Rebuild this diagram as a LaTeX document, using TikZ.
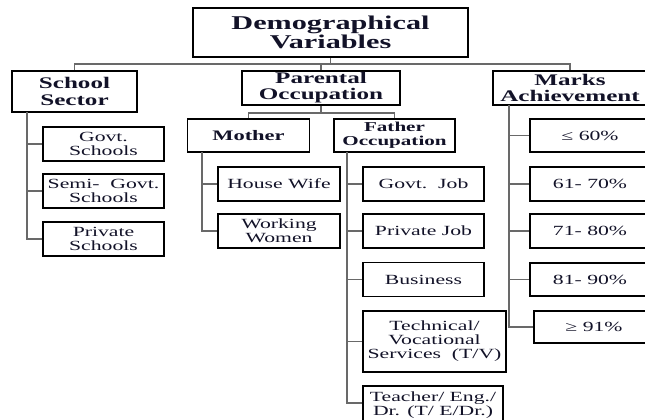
\documentclass[tikz,border=0pt]{standalone}
\usepackage{fontspec}
\setmainfont[FakeStretch=1.55]{Liberation Serif}
\usetikzlibrary{positioning,calc}
\definecolor{linkgray}{RGB}{105,105,105}
\definecolor{boxtext}{RGB}{18,18,40}

\begin{document}
\begin{tikzpicture}[x=1pt, y=-1pt,
    topbox/.style={rectangle, draw=black, line width=1.8pt, text=boxtext, inner sep=0pt, align=center, font=\fontsize{19.5}{18.5}\selectfont\bfseries, minimum width=275pt, minimum height=49pt},
    headbox/.style={rectangle, draw=black, line width=1.8pt, text=boxtext, inner sep=0pt, align=center, font=\fontsize{16.2}{16.2}\selectfont\bfseries, minimum height=34pt},
    subbox/.style={rectangle, draw=black, line width=1.8pt, text=boxtext, inner sep=0pt, align=center, font=\fontsize{14.5}{14}\selectfont\bfseries, minimum width=122pt, minimum height=33pt},
    leafbox/.style={rectangle, draw=black, line width=1.8pt, text=boxtext, inner sep=0pt, align=center, font=\fontsize{14}{14}\selectfont, minimum width=121pt, minimum height=34pt},
    link/.style={draw=linkgray, line width=1.1pt}
]
\useasboundingbox (0,0) rectangle (645,420);
\clip (0,0) rectangle (645,420);

% Root
\node[topbox] (root) at (330.5,32.5) {Demographical\\Variables};

% First level
\node[headbox, minimum width=125pt, minimum height=41pt] (school) at (74.5,91.5) {School\\Sector};
\node[headbox, minimum width=158pt] (parental) at (321,88) {Parental\\Occupation};
\node[headbox, minimum width=154pt] (marks) at (570,88) {Marks\\Achievement};

% School sector
\node[leafbox] (govts) at (103.5,144) {Govt.\\Schools};
\node[leafbox] (semi) at (103.5,191) {Semi-\ \ Govt.\\Schools};
\node[leafbox] (privs) at (103.5,239) {Private\\Schools};

% Parental occupation
\node[subbox] (mother) at (248.5,135.5) {Mother};
\node[subbox, minimum width=121pt, font=\fontsize{13.6}{13.6}\selectfont\bfseries] (father) at (394.5,135.5) {Father\\Occupation};
\node[leafbox, minimum width=122pt] (housewife) at (279,184) {House Wife};
\node[leafbox, minimum width=122pt] (working) at (279,231) {Working\\Women};
\node[leafbox] (govtjob) at (423.5,184) {Govt.\ \ Job};
\node[leafbox] (privjob) at (423.5,231) {Private Job};
\node[leafbox] (business) at (423.5,279.5) {Business};
\node[leafbox, minimum width=143pt, minimum height=61pt] (technical) at (434.5,341.5) {Technical/\\Vocational\\Services\ \ (T/V)};
\node[leafbox, minimum width=140pt, minimum height=38pt] (teacher) at (433,405) {Teacher/ Eng./\\Dr. (T/ E/Dr.)};

% Marks achievement
\node[leafbox, minimum width=120pt, minimum height=33pt] (mA) at (590,135.5) {≤ 60\%};
\node[leafbox, minimum width=120pt] (mB) at (590,184) {61- 70\%};
\node[leafbox, minimum width=120pt] (mC) at (590,231) {71- 80\%};
\node[leafbox, minimum width=120pt, minimum height=33pt] (mD) at (590,279.5) {81- 90\%};
\node[leafbox, minimum width=120pt, minimum height=32pt] (mE) at (594,327) {≥ 91\%};

% Connectors
\coordinate (bus) at (330.5,64);
\draw[link] (root) -- (bus);
\foreach \n in {school,parental,marks}
    \draw[link] (bus) -| (\n);

\coordinate (pbus) at (321,113);
\draw[link] (parental) -- (pbus);
\foreach \n in {mother,father}
    \draw[link] (pbus) -| (\n);

\coordinate (sstem) at (27,112);
\foreach \n in {govts,semi,privs}
    \draw[link] (sstem) |- (\n);

\coordinate (mstem) at (202,152);
\foreach \n in {housewife,working}
    \draw[link] (mstem) |- (\n);

\coordinate (fstem) at (347,152);
\foreach \n in {govtjob,privjob,business,technical}
    \draw[link] (fstem) |- (\n);
\draw[link] (fstem) |- (teacher.west |- 0,403);

\coordinate (kstem) at (509,105);
\foreach \n in {mA,mB,mC,mD,mE}
    \draw[link] (kstem) |- (\n);

\end{tikzpicture}
\end{document}
